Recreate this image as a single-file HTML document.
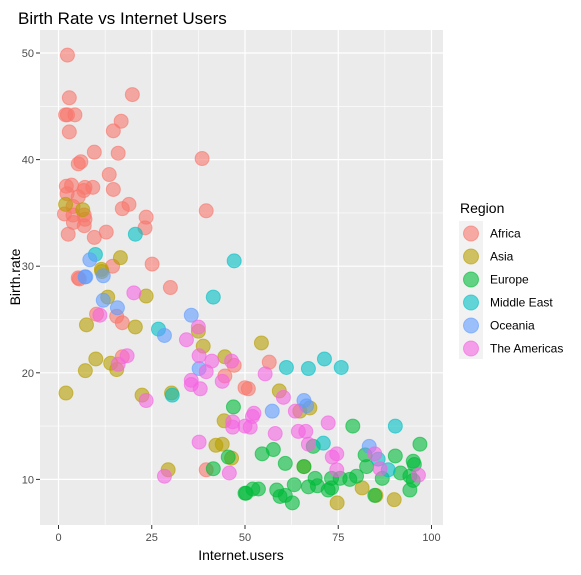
<!DOCTYPE html>
<html><head><meta charset="utf-8"><style>
body{margin:0;background:#fff;font-family:"Liberation Sans",Arial,sans-serif;}
svg text{font-family:"Liberation Sans",Arial,sans-serif;}
</style></head><body>
<svg id="chart" width="581" height="570" viewBox="0 0 581 570" xmlns="http://www.w3.org/2000/svg">
<text x="18" y="24" font-size="17" fill="#000">Birth Rate vs Internet Users</text>
<rect x="40" y="30" width="403" height="495" fill="#ebebeb"/>
<g id="grid"></g>
<g id="points"></g>
<g id="axes"></g>
<text x="241" y="560" font-size="14" text-anchor="middle">Internet.users</text>
<text x="0" y="0" font-size="14" text-anchor="middle" transform="translate(20,277) rotate(-90)">Birth.rate</text>
<text x="460" y="213" font-size="14">Region</text>
<rect x="459" y="221" width="24" height="138" fill="#f2f2f2"/>
<g id="legend"></g>
</svg>
<script>
const regions = ["Africa","Asia","Europe","Middle East","Oceania","The Americas"];
const colors = ["#F8766D","#B79F00","#00BA38","#00BFC4","#619CFF","#F564E3"];
const xTicks = [0,25,50,75,100];
const yTicks = [10,20,30,40,50];
const africaX = [2.4,2.9,19.8,1.9,4.4,2.4,16.8,14.7,2.9,9.6,16,38.5,5.3,6,13.6,2.1,3.5,7.1,9.2,14.7,6.8,2.3,5.3,18.9,17.1,39.6,3.9,1.6,3.9,6.9,7.1,23.5,4,6.9,23.2,2.6,12.8,9.6,25.1,14.5,5.3,5.6,30,10.2,15.6,17.1,17.1,44.6,47.1,50,39.6,56.5,50.9];
const africaY = [49.8,45.8,46.1,44.2,44.2,44.2,43.6,42.7,42.6,40.7,40.6,40.1,39.6,39.8,38.6,37.5,37.6,37.4,37.4,37.2,37.1,36.8,36.5,35.8,35.4,35.2,35.6,34.9,34.8,34.8,34.4,34.6,34.1,33.8,33.6,33,33.2,32.7,30.2,30,28.9,28.8,28,25.5,25.3,24.7,21.5,19.7,20.7,18.6,10.9,21,18.5];
const asiaX = [1.9,6.5,16.6,11.5,11.6,13.2,23.5,7.5,20.6,37.5,38.8,44.6,10,14,15.6,7.2,2,22.4,30.3,44.4,42.2,43.9,46.4,29.4,54.4,59.2,67.4,64.7,65.8,81.4,85.1,90,74.7];
const asiaY = [35.8,35.3,30.8,29.7,29.5,27.1,27.2,24.5,24.3,23.9,22.5,21.5,21.3,20.9,20.3,20.2,18.1,17.9,18.1,15.5,13.2,13.3,12,10.9,22.8,18.3,16.7,16.4,11.2,9.2,8.5,8.1,7.8];
const europeX = [46.9,45.5,41.5,50,78.9,68.3,54.6,57.6,60.8,65.8,82.2,90.3,96.9,82.6,95.1,95.4,91.7,86.8,94.2,95.1,94.2,63.2,68.8,67,69.4,73.2,75.5,78.1,79.9,72.3,73.2,84.8,58.5,59.4,60.8,62.7,50.3,52.1,53.6];
const europeY = [16.8,12.1,11,8.7,15,13.1,12.4,12.8,11.5,11.2,12.3,12.2,13.3,11.2,11.7,11.4,10.6,10.1,10.3,9.9,9,9.5,10.1,9.3,9.4,10.1,10.1,10,10.3,9,9.2,8.5,9,8.4,8.5,7.8,8.7,9.1,9.1];
const meX = [20.6,9.9,47.1,41.5,26.8,30.5,61.1,67,71.3,75.8,90.3,71,85.7,88.4];
const meY = [33,31.1,30.5,27.1,24.1,17.9,20.5,20.4,21.3,20.5,15,13.4,11.9,10.9];
const oceaniaX = [8.4,7.1,12,7.3,12,15.8,35.6,28.4,37.7,65.8,66.5,57.3,83.3];
const oceaniaY = [30.6,29,29.1,29,26.8,26.1,25.4,23.5,20.4,17.4,16.9,16.4,13.1];
const americasX = [11.1,20.2,37.5,34.3,18.4,16,37.7,41.1,39.6,46.4,43.9,35.6,35.6,38,23.5,46.7,46.7,37.7,45.8,28.4,50,55.4,60.3,52.4,52,51.4,63.5,72.3,58.1,64.3,66.3,67,74.6,73.4,74.6,84.8,86.2,96.5];
const americasY = [25.4,27.5,24.3,23.1,21.6,20.8,21.6,21.1,20.1,21.1,19.2,19.3,18.9,18.5,17.4,15.4,14.9,13.5,10.6,10.3,15,19.9,17.7,16.2,15.9,14.9,16.4,15.3,14.3,14.5,14.5,13.3,12.4,12.1,10.9,12.4,11,10.4];
const seriesX = [africaX,asiaX,europeX,meX,oceaniaX,americasX];
const seriesY = [africaY,asiaY,europeY,meY,oceaniaY,americasY];

const NS="http://www.w3.org/2000/svg";
function sx(v){return 58.5+v*3.73;}
function sy(v){return 586-v*10.66;}
const grid=document.getElementById('grid'), axes=document.getElementById('axes');
function ln(p,x1,y1,x2,y2,c,w){const l=document.createElementNS(NS,'line');l.setAttribute('x1',x1);l.setAttribute('y1',y1);l.setAttribute('x2',x2);l.setAttribute('y2',y2);l.setAttribute('stroke',c);l.setAttribute('stroke-width',w);p.appendChild(l);return l;}
for(let i=0;i<xTicks.length-1;i++){const l=ln(grid,sx((xTicks[i]+xTicks[i+1])/2),30,sx((xTicks[i]+xTicks[i+1])/2),525,'#fff',0.6);

}
for(let i=0;i<yTicks.length-1;i++){const l=ln(grid,40,sy((yTicks[i]+yTicks[i+1])/2),443,sy((yTicks[i]+yTicks[i+1])/2),'#fff',0.6);

}
xTicks.forEach(t=>{const l=ln(grid,sx(t),30,sx(t),525,'#fff',1.2);


const k=ln(axes,sx(t),525,sx(t),529,'#333',1);


const tx=document.createElementNS(NS,'text');tx.setAttribute('x',sx(t));tx.setAttribute('y',541);tx.setAttribute('text-anchor','middle');tx.setAttribute('font-size','11');tx.setAttribute('fill','#4d4d4d');tx.textContent=t;


axes.appendChild(tx);});
yTicks.forEach(t=>{const l=ln(grid,40,sy(t),443,sy(t),'#fff',1.2);


const k=ln(axes,36,sy(t),40,sy(t),'#333',1);


const tx=document.createElementNS(NS,'text');tx.setAttribute('x',34);tx.setAttribute('y',sy(t)+4);tx.setAttribute('text-anchor','end');tx.setAttribute('font-size','11');tx.setAttribute('fill','#4d4d4d');tx.textContent=t;


axes.appendChild(tx);});
const pts=document.getElementById('points');
seriesX.forEach((xs,s)=>{xs.forEach((xv,i)=>{const c=document.createElementNS(NS,'circle');
c.setAttribute('cx',sx(xv));c.setAttribute('cy',sy(seriesY[s][i]));c.setAttribute('r',7);
c.setAttribute('fill',colors[s]);c.setAttribute('fill-opacity','0.6');c.setAttribute('stroke',colors[s]);c.setAttribute('stroke-opacity','0.6');c.setAttribute('stroke-width','1');


pts.appendChild(c);});});
const lg=document.getElementById('legend');
regions.forEach((r,i)=>{const y=233.5+i*23;
const g=document.createElementNS(NS,'g');


const c=document.createElementNS(NS,'circle');c.setAttribute('cx',471);c.setAttribute('cy',y);c.setAttribute('r',7.5);c.setAttribute('fill',colors[i]);c.setAttribute('fill-opacity','0.6');c.setAttribute('stroke',colors[i]);c.setAttribute('stroke-opacity','0.6');g.appendChild(c);
const t=document.createElementNS(NS,'text');t.setAttribute('x',490);t.setAttribute('y',y+4);t.setAttribute('font-size','12');t.textContent=r;g.appendChild(t);
lg.appendChild(g);});
</script>
</body></html>
